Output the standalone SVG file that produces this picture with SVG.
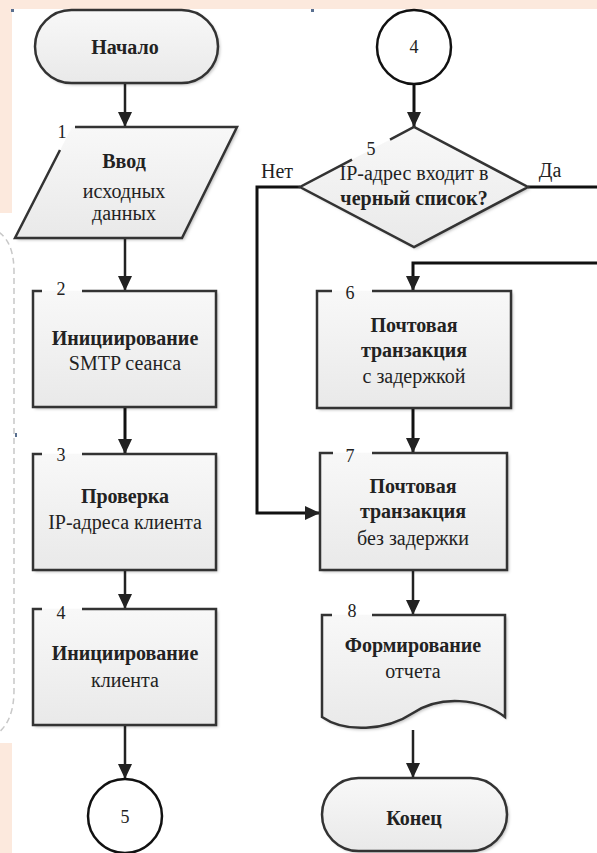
<svg xmlns="http://www.w3.org/2000/svg" width="597" height="853" viewBox="0 0 597 853">
<defs>
<linearGradient id="g" x1="0" y1="0" x2="0" y2="1">
<stop offset="0" stop-color="#f8f8f8"/>
<stop offset="1" stop-color="#e9e9e9"/>
</linearGradient>
<filter id="sh" x="-10%" y="-10%" width="130%" height="130%">
<feDropShadow dx="2" dy="2" stdDeviation="1.5" flood-color="#000" flood-opacity="0.25"/>
</filter>
<marker id="ah" markerUnits="userSpaceOnUse" markerWidth="16" markerHeight="16" viewBox="0 0 16 16" refX="15" refY="8" orient="auto">
<path d="M0,1 L15,8 L0,15 Z" fill="#222"/>
</marker>
</defs>
<style>
.fill{fill:url(#g);stroke:none;filter:url(#sh)}
.ol{fill:none;stroke:#333;stroke-width:2.5;stroke-linejoin:miter}
.circ{fill:#fff;stroke:#111;stroke-width:2.5}
.c{fill:none;stroke:#222;stroke-width:2.5}
.cb{fill:none;stroke:#111;stroke-width:3}
text{font-family:"Liberation Serif","Times New Roman",serif;fill:#222;text-anchor:middle;font-size:20px}
.b{font-weight:bold}
.n{font-size:18px}
</style>
<rect width="597" height="853" fill="#fff"/>
<rect x="0" y="0" width="597" height="9" fill="#fce9dd"/>
<rect x="0" y="0" width="12" height="213" fill="#fce9dd"/>
<rect x="0" y="743" width="12" height="110" fill="#fce9dd"/>
<path d="M-10,228 Q14,235 14,272 V690 Q14,727 -10,738" fill="none" stroke="#c8c8c8" stroke-width="1.5" stroke-dasharray="6,4"/>
<rect x="11" y="9" width="3" height="3" fill="#5a7090"/>
<rect x="311" y="9" width="3" height="3" fill="#5a7090"/>
<rect x="15" y="433" width="2" height="4" fill="#5a7090"/>

<g id="connectors">
<path class="c" d="M125,83 V127" marker-end="url(#ah)"/>
<path class="c" d="M125,238 V291" marker-end="url(#ah)"/>
<path class="cb" d="M125,407 V454" marker-end="url(#ah)"/>
<path class="c" d="M125,570 V609" marker-end="url(#ah)"/>
<path class="c" d="M125,725 V779" marker-end="url(#ah)"/>
<path class="cb" d="M414,84 V127" marker-end="url(#ah)"/>
<path class="cb" d="M300,187 H257 V513 H320" marker-end="url(#ah)"/>
<path class="cb" d="M528,187 H597"/>
<path class="cb" d="M597,263 H413 V291" marker-end="url(#ah)"/>
<path class="cb" d="M413,408 V453" marker-end="url(#ah)"/>
<path class="c" d="M413,570 V615" marker-end="url(#ah)"/>
<path class="c" d="M413,730 V778" marker-end="url(#ah)"/>
<text x="277" y="178">Нет</text>
<text x="550" y="177">Да</text>
</g>

<g id="start">
<rect class="fill" x="35" y="10" width="183" height="73" rx="36.5"/>
<rect class="ol" x="35" y="10" width="183" height="73" rx="36.5"/>
<text class="b" x="125" y="54">Начало</text>
</g>

<g id="n1">
<polygon class="fill" points="72,127 237,127 182,238 15,238"/>
<path class="ol" d="M75,127 H237 L182,238 H15 L60,150"/>
<text class="n" x="62" y="138">1</text>
<text class="b" x="124" y="168">Ввод</text>
<text x="124" y="198">исходных</text>
<text x="124" y="220">данных</text>
</g>

<g id="n2">
<rect class="fill" x="33" y="291" width="183" height="116"/>
<path class="ol" d="M42,291 H33 V407 H216 V291 H82"/>
<text class="n" x="61" y="295">2</text>
<text class="b" x="125" y="345">Инициирование</text>
<text x="125" y="370">SMTP сеанса</text>
</g>

<g id="n3">
<rect class="fill" x="33" y="454" width="183" height="116"/>
<path class="ol" d="M42,454 H33 V570 H216 V454 H82"/>
<text class="n" x="61" y="461">3</text>
<text class="b" x="125" y="503">Проверка</text>
<text x="125" y="529">IP-адреса клиента</text>
</g>

<g id="n4">
<rect class="fill" x="33" y="609" width="183" height="116"/>
<path class="ol" d="M42,609 H33 V725 H216 V609 H82"/>
<text class="n" x="61" y="619">4</text>
<text class="b" x="125" y="660">Инициирование</text>
<text x="125" y="687">клиента</text>
</g>

<g id="conn5">
<circle class="circ" cx="125" cy="816" r="37"/>
<text class="n" x="125" y="823">5</text>
</g>

<g id="conn4">
<circle class="circ" cx="414" cy="47" r="37"/>
<text class="n" x="414" y="53">4</text>
</g>

<g id="n5">
<polygon class="fill" points="414,127 528,187 414,247 300,187"/>
<path class="ol" d="M390,139.6 L414,127 L528,187 L414,247 L300,187 L352,159.6"/>
<text class="n" x="371" y="155">5</text>
<text x="414" y="180">IP-адрес входит в</text>
<text class="b" x="414" y="205">черный список?</text>
</g>

<g id="n6">
<rect class="fill" x="317" y="291" width="194" height="117"/>
<path class="ol" d="M332,291 H317 V408 H511 V291 H372"/>
<text class="n" x="350" y="299">6</text>
<text class="b" x="414" y="332">Почтовая</text>
<text class="b" x="414" y="357">транзакция</text>
<text x="414" y="383">с задержкой</text>
</g>

<g id="n7">
<rect class="fill" x="320" y="453" width="187" height="117"/>
<path class="ol" d="M333,453 H320 V570 H507 V453 H372"/>
<text class="n" x="350" y="462">7</text>
<text class="b" x="413" y="493">Почтовая</text>
<text class="b" x="413" y="518">транзакция</text>
<text x="413" y="545">без задержки</text>
</g>

<g id="n8">
<path class="fill" d="M322,615 H505 V717 C480,698 440,695 413,713 C386,731 345,733 322,717 Z"/>
<path class="ol" d="M332,615 H322 V717 C345,733 386,731 413,713 C440,695 480,698 505,717 V615 H372"/>
<text class="n" x="352" y="617">8</text>
<text class="b" x="413" y="652">Формирование</text>
<text x="413" y="678">отчета</text>
</g>

<g id="end">
<rect class="fill" x="322" y="778" width="185" height="73" rx="36.5"/>
<rect class="ol" x="322" y="778" width="185" height="73" rx="36.5"/>
<text class="b" x="414" y="825">Конец</text>
</g>
</svg>
